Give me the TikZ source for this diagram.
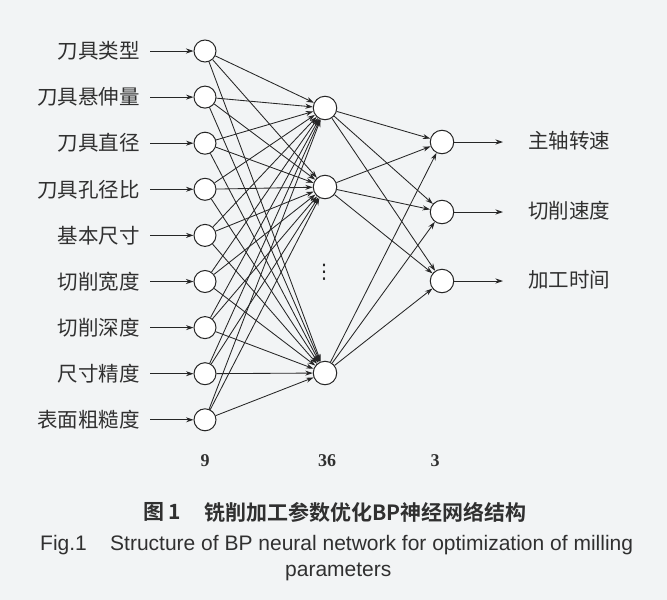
\documentclass[tikz,border=0pt]{standalone}
\usepackage{fontspec}
\setmainfont{Liberation Serif}
\newfontfamily\cjk{Noto Sans CJK SC}
\newfontfamily\cjkb{Noto Sans CJK SC Bold}
\newfontfamily\arial{Liberation Sans}
\newfontfamily\dejavu{DejaVu Sans}
\usetikzlibrary{arrows.meta}
\definecolor{bgc}{HTML}{F2F4F5}
\definecolor{ink}{HTML}{262626}
\definecolor{txt}{HTML}{303030}
\begin{document}
\begin{tikzpicture}[x=1pt,y=-1pt,
  neuron/.style={circle,draw=ink,line width=1pt,fill=white,minimum size=22pt,inner sep=0pt},
  hneuron/.style={neuron,minimum size=23.5pt},
  conn/.style={draw=ink,line width=0.85pt,-{Stealth[length=7.5pt,width=5pt]}},
  lab/.style={font=\fontsize{20.5}{21}\cjk,text=txt,inner sep=0pt},
  num/.style={font=\fontsize{18}{18}\selectfont\bfseries,text=txt,inner sep=0pt},
  capen/.style={font=\fontsize{21}{21}\arial,text=txt,inner sep=0pt,anchor=west},
  capcn/.style={font=\fontsize{21}{21}\cjkb,text=txt,inner sep=0pt,anchor=west}]
\fill[bgc] (0,0) rectangle (667,600);
\useasboundingbox (0,0) rectangle (667,600);
% input layer
\foreach \i/\t [count=\k from 0] in {1/刀具类型,2/刀具悬伸量,3/刀具直径,4/刀具孔径比,5/基本尺寸,6/切削宽度,7/切削深度,8/尺寸精度,9/表面粗糙度}{
  \pgfmathsetmacro\yy{51+46.1*\k}
  \node[neuron] (i\i) at (205,\yy) {};
  \node[lab,anchor=east] (li\i) at (140,\yy) {\t};
  \coordinate (si\i) at (150,\yy);
  \draw[conn] (si\i) -- (i\i);
}
% hidden layer
\node[hneuron] (h1) at (325,108) {};
\node[hneuron] (h2) at (325,187) {};
\node[hneuron] (h3) at (325,373) {};
\node[inner sep=0pt,text=ink,font=\fontsize{20}{20}\dejavu] (hd) at (324,272) {⋮};
% output layer
\node[hneuron] (o1) at (442,142) {};
\node[hneuron] (o2) at (442,212) {};
\node[hneuron] (o3) at (442,281) {};
\foreach \i/\t in {1/主轴转速,2/切削速度,3/加工时间}{
  \coordinate (so\i) at ([xshift=61pt]o\i.center);
  \draw[conn] (o\i) -- (so\i);
  \node[lab,anchor=west] (lo\i) at ([xshift=86pt,yshift=1pt]o\i.center) {\t};
}
% connections
\foreach \i in {1,...,9}{\foreach \j in {1,2,3}{\draw[conn] (i\i) -- (h\j);}}
\foreach \i in {1,2,3}{\foreach \j in {1,2,3}{\draw[conn] (h\i) -- (o\j);}}
% layer sizes
\node[num] (n9) at (205,461) {9};
\node[num] (n36) at (327,461) {36};
\node[num] (n3) at (435,461) {3};
% captions
\node[capcn] (c1a) at (143,512) {图 1};
\node[capcn] (c1b) at (204,512) {铣削加工参数优化BP神经网络结构};
\node[capen] (c2a) at (40,545) {Fig.1};
\node[capen] (c2b) at (110,545) {Structure of BP neural network for optimization of milling};
\node[capen] (c2c) at (285,572) {parameters};
\end{tikzpicture}
\end{document}
